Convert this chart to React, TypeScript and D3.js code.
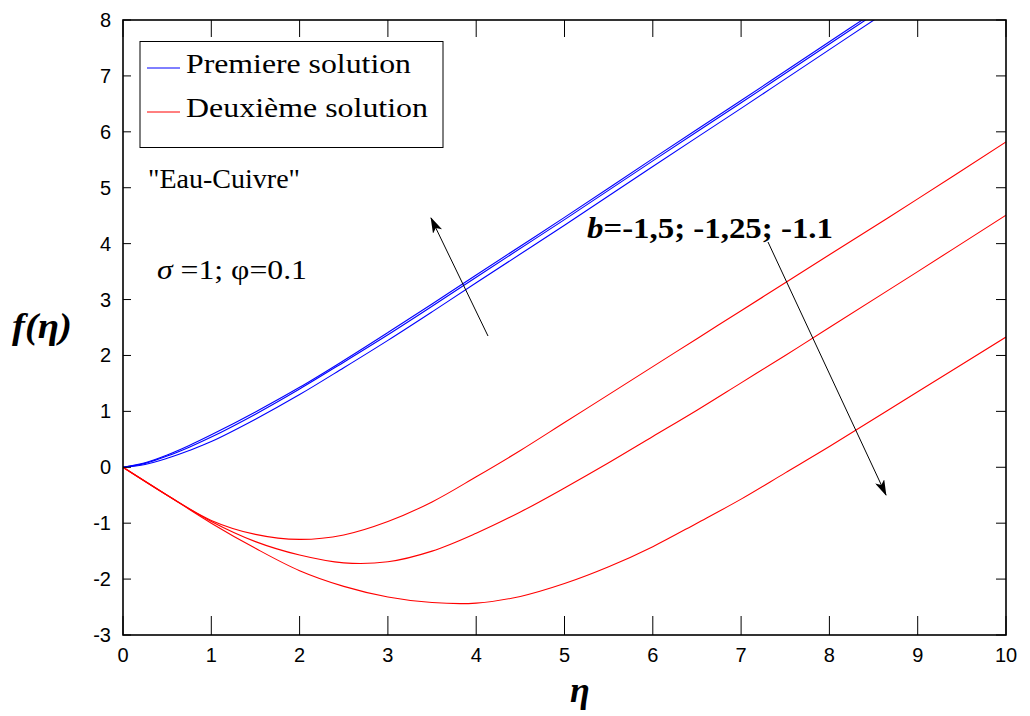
import React from "react";
import * as d3 from "d3";

// Similarity variable η (sample points)
const etaFirst = [0, 0.25, 0.5, 0.75, 1, 1.5, 2, 2.5, 3, 3.5, 4, 5, 6, 7, 8, 8.6];
// First solution, f(η), three values of b
const firstB1 = [0, 0.05, 0.16, 0.3, 0.46, 0.86, 1.3, 1.78, 2.27, 2.78, 3.3, 4.33, 5.38, 6.42, 7.47, 8.1];
const firstB2 = [0, 0.07, 0.2, 0.36, 0.54, 0.95, 1.4, 1.88, 2.37, 2.88, 3.4, 4.43, 5.48, 6.52, 7.57, 8.2];
const firstB3 = [0, 0.08, 0.22, 0.39, 0.58, 0.99, 1.43, 1.91, 2.41, 2.92, 3.44, 4.47, 5.52, 6.56, 7.61, 8.24];

const etaSecond = [0, 0.5, 1, 1.5, 2, 2.5, 3, 3.5, 4, 4.5, 5, 5.5, 6, 6.5, 7, 7.5, 8, 9, 10];
// Second solution, f(η), three values of b
const secondA = [0, -0.5, -0.95, -1.2, -1.29, -1.21, -0.97, -0.62, -0.17, 0.3, 0.8, 1.3, 1.8, 2.3, 2.8, 3.3, 3.8, 4.8, 5.82];
const secondB = [0, -0.5, -0.97, -1.33, -1.57, -1.71, -1.69, -1.5, -1.18, -0.8, -0.37, 0.08, 0.55, 1.02, 1.51, 2.0, 2.5, 3.5, 4.51];
const secondC = [0, -0.5, -1.0, -1.45, -1.85, -2.13, -2.32, -2.42, -2.43, -2.31, -2.08, -1.78, -1.42, -1.0, -0.57, -0.1, 0.37, 1.35, 2.33];

const xTicks = [0, 1, 2, 3, 4, 5, 6, 7, 8, 9, 10];
const yTicks = [-3, -2, -1, 0, 1, 2, 3, 4, 5, 6, 7, 8];

const W = 1030;
const H = 716;
const left = 123;
const right = 1006;
const top = 20;
const bottom = 635;

export default function App() {
  const x = d3.scaleLinear().domain([0, 10]).range([left, right]);
  const y = d3.scaleLinear().domain([-3, 8]).range([bottom, top]);

  const mkLine = (xs: number[]) =>
    d3
      .line<number>()
      .x((_, i) => x(xs[i]))
      .y((d) => y(d))
      .curve(d3.curveCatmullRom.alpha(0.5));

  const firstLine = mkLine(etaFirst);
  const secondLine = mkLine(etaSecond);

  const serif = "'Liberation Serif', 'Times New Roman', serif";
  const sans = "'Liberation Sans', Arial, sans-serif";

  return (
    <svg
      width={W}
      height={H}
      style={{ position: "absolute", left: 0, top: 0, background: "#fff" }}
    >
      <defs>
        <clipPath id="plot">
          <rect x={left} y={top} width={right - left} height={bottom - top} />
        </clipPath>
        <marker
          id="head"
          viewBox="0 0 16 10"
          refX="15"
          refY="5"
          markerWidth="16"
          markerHeight="10"
          markerUnits="userSpaceOnUse"
          orient="auto"
        >
          <path d="M0,0 L16,5 L0,10 L4,5 Z" fill="#000" />
        </marker>
      </defs>
      <rect width={W} height={H} fill="#fff" />

      <g clipPath="url(#plot)" fill="none" strokeWidth={1.1}>
        {[firstB1, firstB2, firstB3].map((s, i) => (
          <path key={"f" + i} d={firstLine(s) || ""} stroke="#0000ff" />
        ))}
        {[secondA, secondB, secondC].map((s, i) => (
          <path key={"s" + i} d={secondLine(s) || ""} stroke="#ff0000" />
        ))}
      </g>

      {/* frame */}
      <rect
        x={left}
        y={top}
        width={right - left}
        height={bottom - top}
        fill="none"
        stroke="#000"
        strokeWidth={1.6}
      />

      {/* ticks */}
      {xTicks.map((t) => (
        <g key={"xt" + t}>
          <line x1={x(t)} x2={x(t)} y1={bottom} y2={bottom - 19} stroke="#000" strokeWidth={1} />
          <line x1={x(t)} x2={x(t)} y1={top} y2={top + 17} stroke="#000" strokeWidth={1} />
          <text
            x={x(t)}
            y={662}
            textAnchor="middle"
            fontFamily={sans}
            fontSize={20}
            fill="#000"
          >
            {t}
          </text>
        </g>
      ))}
      {yTicks.map((t) => (
        <g key={"yt" + t}>
          <line x1={left} x2={left + 8} y1={y(t)} y2={y(t)} stroke="#000" strokeWidth={1} />
          <line x1={right} x2={right - 10} y1={y(t)} y2={y(t)} stroke="#000" strokeWidth={1} />
          <text
            x={111}
            y={y(t) + 7}
            textAnchor="end"
            fontFamily={sans}
            fontSize={20}
            fill="#000"
          >
            {t}
          </text>
        </g>
      ))}

      {/* axis titles */}
      <text
        x={12}
        y={338}
        fontFamily={serif}
        fontSize={36}
        fontWeight="bold"
        fontStyle="italic"
        fill="#000"
        textLength={60}
        lengthAdjust="spacingAndGlyphs"
      >
        f(η)
      </text>
      <text
        x={580}
        y={702}
        textAnchor="middle"
        fontFamily={serif}
        fontSize={36}
        fontWeight="bold"
        fontStyle="italic"
        fill="#000"
      >
        η
      </text>

      {/* legend */}
      <rect x={140} y={41.5} width={303} height={106} fill="#fff" stroke="#000" strokeWidth={1} />
      <line x1={147} x2={180} y1={68} y2={68} stroke="#0000ff" strokeWidth={1} />
      <text x={186} y={73} fontFamily={serif} fontSize={28} fill="#000" textLength={225} lengthAdjust="spacingAndGlyphs">
        Premiere solution
      </text>
      <line x1={147} x2={180} y1={112} y2={112} stroke="#ff0000" strokeWidth={1} />
      <text x={186} y={117} fontFamily={serif} fontSize={28} fill="#000" textLength={242} lengthAdjust="spacingAndGlyphs">
        Deuxième solution
      </text>

      {/* annotations */}
      <text x={148} y={188} fontFamily={serif} fontSize={28} fill="#000" textLength={152} lengthAdjust="spacingAndGlyphs">
        "Eau-Cuivre"
      </text>
      <text x={157} y={279} fontFamily={serif} fontSize={28} fill="#000" textLength={150} lengthAdjust="spacingAndGlyphs">
        <tspan fontStyle="italic">σ</tspan> =1; φ=0.1
      </text>
      <text x={587} y={238} fontFamily={serif} fontSize={29} fontWeight="bold" fill="#000" textLength={246} lengthAdjust="spacingAndGlyphs">
        <tspan fontStyle="italic">b</tspan>=-1,5; -1,25; -1.1
      </text>

      {/* arrows */}
      <line x1={488} y1={336} x2={431} y2={218} stroke="#000" strokeWidth={1} markerEnd="url(#head)" />
      <line x1={768} y1={242} x2={886} y2={495} stroke="#000" strokeWidth={1} markerEnd="url(#head)" />
    </svg>
  );
}
